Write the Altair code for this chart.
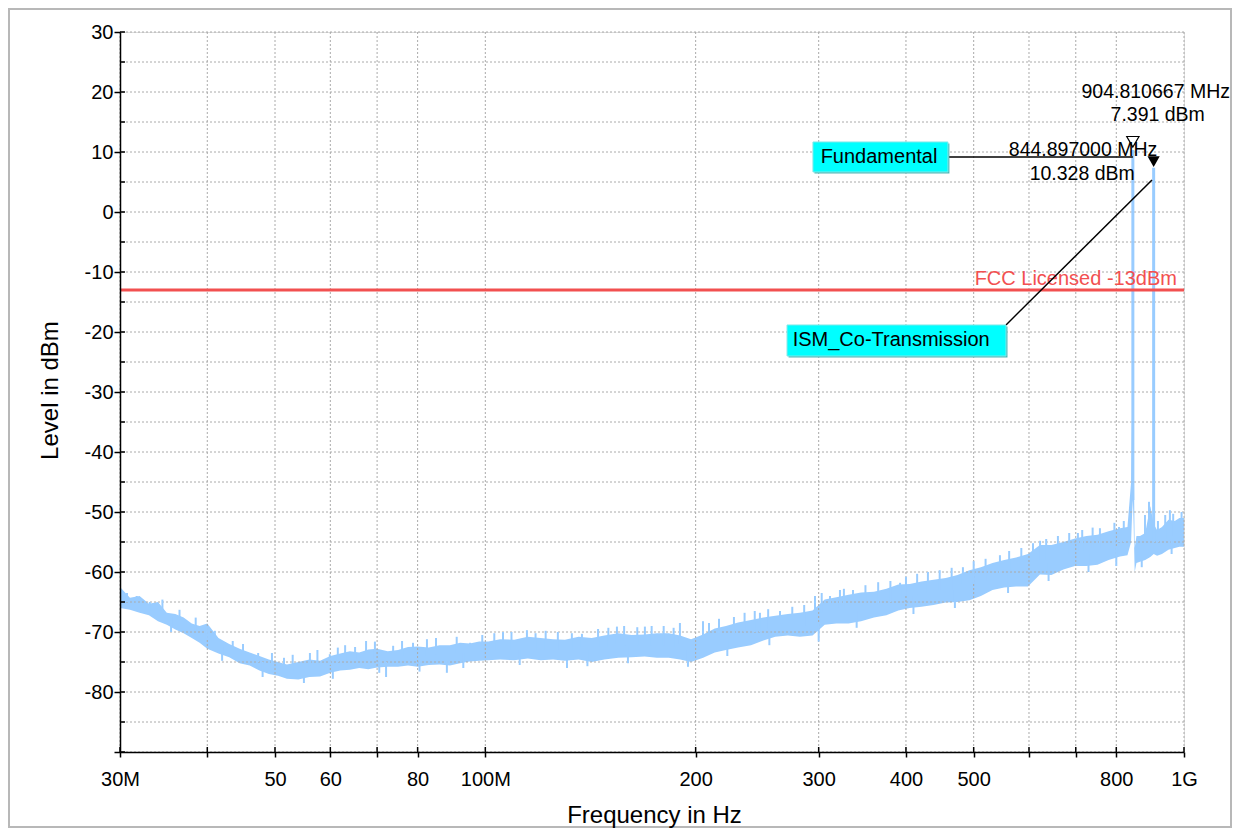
import altair as alt
import pandas as pd

# ---------------- data ----------------
freq_mhz = [30, 31, 32, 33, 34, 35, 36, 37, 38, 39, 40, 41.5, 43, 44.5, 46, 47.5, 49, 50.5, 52, 54,
            56, 58, 60, 62, 64, 66, 68, 70, 72.5, 75, 77.5, 80, 83, 86, 89, 92, 95, 98, 101, 105,
            110, 115, 120, 125, 130, 136, 142, 148, 155, 162, 169, 176, 183, 190, 197, 205, 213, 221, 230, 240,
            250, 260, 271, 282, 294, 306, 318, 331, 345, 360, 375, 390, 405, 421, 438, 456, 474, 493, 512, 532,
            553, 575, 598, 622, 646, 672, 698, 725, 752, 780, 810, 830, 840, 843, 845, 847, 850, 855, 865, 880,
            895, 905, 915, 930, 950, 970, 985, 1000]
upper_dbm = [-62.5, -64.3, -64.0, -65.3, -65.0, -66.8, -67.0, -67.6, -68.6, -69.0, -68.6, -71.0, -72.0, -72.8, -73.4, -74.0, -74.6, -75.0, -75.4, -75.0,
             -74.6, -74.8, -74.0, -73.6, -73.2, -73.4, -72.9, -72.8, -73.2, -73.0, -72.5, -72.4, -72.6, -72.2, -72.2, -71.8, -71.9, -71.6, -71.6, -71.2,
             -71.3, -70.8, -71.0, -71.2, -71.3, -70.8, -71.0, -70.6, -70.2, -70.5, -70.4, -70.2, -70.2, -70.6, -71.2, -70.4, -69.4, -69.0, -68.4, -68.0,
             -67.6, -67.3, -67.0, -66.8, -66.4, -64.6, -64.2, -63.8, -63.4, -63.3, -62.8, -62.1, -62.0, -61.6, -61.3, -61.0, -60.5, -59.7, -59.2, -58.5,
             -58.0, -57.6, -57.0, -55.5, -55.5, -55.0, -54.4, -54.0, -53.8, -53.2, -52.7, -52.5, -45.0, -32.0, -30.0, -38.0, -56.0, -54.0, -54.0, -53.5,
             -49.0, -52.0, -53.0, -52.5, -51.3, -51.5, -51.0, -51.0]
lower_dbm = [-66.0, -66.3, -66.8, -67.2, -68.2, -68.8, -69.6, -70.2, -71.0, -71.8, -72.8, -73.6, -74.2, -75.2, -75.6, -76.4, -77.0, -77.3, -77.8, -77.9,
             -77.5, -77.4, -76.8, -76.4, -76.3, -76.0, -76.2, -75.9, -75.8, -75.8, -75.6, -75.8, -75.5, -75.4, -75.6, -75.2, -74.9, -74.8, -74.7, -74.6,
             -74.7, -74.4, -74.7, -74.6, -74.8, -74.6, -75.0, -74.6, -74.3, -74.2, -74.1, -74.3, -74.3, -74.6, -75.0, -74.3, -73.4, -73.0, -72.6, -72.2,
             -71.4, -70.8, -70.6, -70.8, -70.6, -68.8, -68.6, -68.6, -68.2, -67.6, -67.2, -66.4, -66.0, -65.8, -65.5, -65.1, -65.0, -64.7, -64.0, -63.0,
             -62.6, -62.4, -62.4, -60.4, -60.5, -59.6, -59.0, -59.0, -58.8, -58.0, -57.4, -57.2, -55.0, -50.0, -48.0, -52.0, -60.0, -58.5, -58.3, -58.0,
             -57.5, -57.0, -57.3, -57.0, -56.3, -56.0, -55.8, -55.8]

# individual noise spikes: frequency, tip level, level where the spike leaves the band
spike_freq_mhz = [30.7, 31.7, 33.1, 39.95, 43.5, 47.3, 56.1, 59.9, 65.1, 72.1, 73.8, 78.8, 82.5, 88.1, 95.1,
                  106.0, 114.7, 130.9, 137.5, 154.3, 169.2, 189.9, 204.9, 226.9, 247.2, 264.1, 296.4, 311.4,
                  321.8, 335.9, 392.3, 482.6, 545.2, 622.3, 704.9, 758, 807.2, 879.3, 891, 917.7, 954.6,
                  34.5, 36.5, 38.5, 41, 45, 49.5, 51.5, 53, 57.5, 61.5, 63, 67.5, 69.5, 76, 85, 91, 99, 103,
                  109, 118, 122, 127, 133, 145, 150, 158, 165, 173, 180, 186, 209, 216, 235, 243, 254, 275,
                  286, 303, 326, 350, 365, 380, 400, 415, 430, 447, 465, 500, 520, 562, 585, 608, 635, 660,
                  685, 715, 740, 795, 820, 940, 965, 992,
                  35.5, 42, 48, 55, 60.5, 70.5, 80.5, 93, 112, 140, 160, 195, 222, 255, 300, 340, 410, 470,
                  560, 640, 730, 800, 870, 960]
spike_tip_dbm = [-63.5, -64.0, -65.0, -69.1, -71.5, -73.5, -73.5, -73.7, -72.5, -77.5, -72.3, -71.8, -71.2, -76.8, -71.8,
                 -70.0, -69.7, -76.0, -70.3, -69.1, -69.1, -68.5, -68.2, -67.5, -66.8, -66.5, -64.0, -64.0,
                 -63.0, -63.0, -61.8, -59.2, -57.2, -54.8, -53.5, -52.7, -52.5, -50.5, -48.3, -51.5, -49.7,
                 -64.6, -66.3, -67.6, -69.8, -72.0, -73.5, -74.3, -73.8, -73.0, -72.6, -72.2, -71.5, -71.6, -71.5, -71.0, -70.8, -70.5, -70.2,
                 -70.0, -70.2, -69.8, -70.0, -70.2, -69.5, -69.3, -69.0, -69.2, -69.0, -69.0, -69.3, -68.5, -67.8, -66.8, -66.5, -66.2, -65.8,
                 -65.5, -63.5, -62.8, -62.2, -61.7, -61.5, -60.8, -60.3, -60.0, -59.7, -59.3, -58.2, -57.8, -56.5, -56.0, -55.2, -54.5, -54.0,
                 -53.5, -53.0, -52.6, -51.8, -51.5, -50.5, -50.3, -50.0,
                 -70.0, -74.8, -77.5, -78.5, -77.8, -76.8, -76.6, -76.0, -75.5, -75.7, -75.2, -75.8, -74.0, -72.2, -71.6, -69.3, -67.0, -66.0,
                 -63.5, -61.5, -60.0, -59.0, -59.2, -57.0]
spike_base_dbm = [-65.0, -65.5, -66.5, -71.0, -73.0, -75.0, -76.0, -75.5, -74.5, -75.0, -74.5, -74.0, -74.0, -74.5, -73.5,
                  -73.0, -72.5, -73.5, -72.5, -72.0, -72.0, -72.0, -72.0, -70.5, -70.0, -69.0, -68.5, -67.0,
                  -66.0, -66.0, -64.5, -62.0, -60.5, -58.0, -56.5, -56.0, -55.0, -55.5, -55.5, -55.0, -53.5,
                  -66.5, -68.0, -69.8, -72.0, -74.0, -76.0, -76.5, -76.5, -75.5, -75.0, -75.0, -74.5, -74.5, -74.0, -73.8, -73.5, -73.2, -73.0,
                  -73.0, -73.0, -73.0, -73.0, -73.0, -72.5, -72.5, -72.3, -72.3, -72.3, -72.3, -72.5, -71.5, -71.0, -70.0, -70.0, -69.5, -69.0,
                  -69.0, -66.8, -66.0, -65.5, -65.5, -65.0, -64.0, -63.8, -63.5, -63.0, -63.0, -62.0, -61.5, -60.0, -60.0, -58.5, -58.0, -57.5,
                  -57.0, -56.5, -56.0, -55.5, -55.0, -54.5, -54.0, -53.5,
                  -67.5, -72.5, -75.0, -76.5, -75.5, -74.5, -74.0, -73.5, -73.0, -73.0, -72.5, -73.0, -71.5, -69.5, -68.5, -66.5, -64.0, -63.0,
                  -60.5, -58.5, -57.0, -56.0, -56.5, -54.5]

peak_freq_mhz = [844.897, 904.810667]
peak_dbm = [10.328, 7.391]
peak_base_dbm = [-48.0, -55.0]
marker_dbm = [11.7, 8.4]
marker_filled = [False, True]

readout_text = ["904.810667 MHz", "7.391 dBm", "844.897000 MHz", "10.328 dBm"]
readout_freq_mhz = [911, 917, 717, 715]
readout_dbm = [20.0, 16.2, 10.3, 6.3]

limit_dbm = -13
limit_label = "FCC Licensed -13dBm"
limit_label_freq_mhz = 977
limit_label_dbm = -11.1

box_text = ["Fundamental", "ISM_Co-Transmission"]
box_text_freq_mhz = [366, 381]
box_text_dbm = [9.17, -21.4]
box_left_mhz = [294.4, 270.3]
box_right_mhz = [459.3, 556.2]
box_top_dbm = [11.67, -18.83]
box_bottom_dbm = [6.67, -24.0]
leader_from_mhz = [459.3, 556.2]
leader_from_dbm = [9.17, -18.83]
leader_to_mhz = [844.9, 899.9]
leader_to_dbm = [9.17, 5.33]

x_tick_mhz = [30, 40, 50, 60, 70, 80, 100, 200, 300, 400, 500, 600, 700, 800, 1000]
x_tick_labels = ["30M", "", "50", "60", "", "80", "100M", "200", "300", "400", "500", "", "", "800", "1G"]
y_ticks = list(range(-90, 31, 5))

# ---------------- tables ----------------
M = 1e6
band = pd.DataFrame({"f": [v * M for v in freq_mhz], "hi": upper_dbm, "lo": lower_dbm})
spikes = pd.DataFrame({"f": [v * M for v in spike_freq_mhz], "tip": spike_tip_dbm, "base": spike_base_dbm})
peaks = pd.DataFrame({"f": [v * M for v in peak_freq_mhz], "top": peak_dbm, "base": peak_base_dbm,
                      "m": marker_dbm, "filled": marker_filled})
readouts = pd.DataFrame({"f": [v * M for v in readout_freq_mhz], "y": readout_dbm, "t": readout_text})
boxes = pd.DataFrame({"t": box_text, "tf": [v * M for v in box_text_freq_mhz], "ty": box_text_dbm,
                      "l": [v * M for v in box_left_mhz], "r": [v * M for v in box_right_mhz],
                      "top": box_top_dbm, "bot": box_bottom_dbm,
                      "f1": [v * M for v in leader_from_mhz], "y1": leader_from_dbm,
                      "f2": [v * M for v in leader_to_mhz], "y2": leader_to_dbm})
xt = pd.DataFrame({"v": [v * M for v in x_tick_mhz]})
yt = pd.DataFrame({"v": y_ticks})
limit = pd.DataFrame({"y": [limit_dbm], "ly": [limit_label_dbm], "lf": [limit_label_freq_mhz * M], "t": [limit_label]})

W, H = 1064, 720
FONT = "Liberation Sans"
BLUE = "#99ccff"
RED = "#f25050"

xscale = alt.Scale(type="log", domain=[30 * M, 1000 * M], nice=False)
yscale = alt.Scale(domain=[-90, 30], nice=False, zero=False)

label_expr = "''"
for v, lab in zip(x_tick_mhz, x_tick_labels):
    label_expr = f"abs(datum.value - {v * M:.0f}) < 1 ? '{lab}' : ({label_expr})"

xaxis = alt.Axis(values=[v * M for v in x_tick_mhz], labelExpr=label_expr, grid=False,
                 domainColor="black", domainWidth=1.5, tickColor="black", tickWidth=1.5, tickSize=5,
                 labelFont=FONT, labelFontSize=20, labelColor="black", labelPadding=12, labelFlush=False,
                 labelOverlap=False,
                 title="Frequency in Hz", titleFont=FONT, titleFontSize=24, titleFontWeight="normal",
                 titleColor="black", titleBaseline="alphabetic", titleY=70, titleX=W / 2 + 2, zindex=2)
yaxis = alt.Axis(values=y_ticks,
                 labelExpr="(datum.value % 10 == 0 && datum.value > -90) ? ('' + datum.value) : ''",
                 grid=False, domainColor="black", domainWidth=1.5, tickColor="black", tickWidth=1.5,
                 tickSize=6, labelFont=FONT, labelFontSize=20, labelColor="black", labelPadding=1,
                 labelOverlap=False,
                 title="Level in dBm", titleFont=FONT, titleFontSize=24, titleFontWeight="normal",
                 titleColor="black", titleAngle=-90, titleBaseline="middle", titleAlign="center",
                 titleX=-70, titleY=358, zindex=2)


def fx(field):
    return alt.X(field, scale=xscale)


def fy(field):
    return alt.Y(field, scale=yscale)


grid_style = dict(color="#aaaaaa", strokeDash=[2, 2], strokeWidth=1)
vgrid = alt.Chart(xt).mark_rule(**grid_style).encode(x=fx("v:Q"))
hgrid = alt.Chart(yt).mark_rule(**grid_style).encode(y=fy("v:Q"))

trace = alt.Chart(band).mark_area(color=BLUE, opacity=1, interpolate="linear").encode(
    x=alt.X("f:Q", scale=xscale, axis=xaxis), y=alt.Y("lo:Q", scale=yscale, axis=yaxis), y2="hi:Q")

spike_lines = alt.Chart(spikes).mark_rule(color=BLUE, strokeWidth=2).encode(
    x=fx("f:Q"), y=fy("base:Q"), y2="tip:Q")

peak_lines = alt.Chart(peaks).mark_rule(color=BLUE, strokeWidth=3).encode(
    x=fx("f:Q"), y=fy("base:Q"), y2="top:Q")

limit_line = alt.Chart(limit).mark_rule(color=RED, strokeWidth=3).encode(y=fy("y:Q"))
limit_text = alt.Chart(limit).mark_text(color=RED, font=FONT, fontSize=20, align="right", baseline="middle").encode(
    x=fx("lf:Q"), y=fy("ly:Q"), text="t:N")

leaders = alt.Chart(boxes).mark_rule(color="black", strokeWidth=1.5).encode(
    x=fx("f1:Q"), y=fy("y1:Q"), x2="f2:Q", y2="y2:Q")
box_shadow = alt.Chart(boxes).mark_rect(fill="#4fb8b8", xOffset=1.5, yOffset=1.5, x2Offset=1.5, y2Offset=1.5).encode(
    x=fx("l:Q"), x2="r:Q", y=fy("top:Q"), y2="bot:Q")
box_rect = alt.Chart(boxes).mark_rect(fill="#00ffff", stroke="#7fe8e8", strokeWidth=1).encode(
    x=fx("l:Q"), x2="r:Q", y=fy("top:Q"), y2="bot:Q")
box_label = alt.Chart(boxes).mark_text(color="black", font=FONT, fontSize=20, align="center", baseline="middle").encode(
    x=fx("tf:Q"), y=fy("ty:Q"), text="t:N")

markers_open = alt.Chart(peaks).transform_filter("!datum.filled").mark_point(
    shape="triangle-down", filled=False, color="black", size=150, strokeWidth=1.2, opacity=1).encode(
    x=fx("f:Q"), y=fy("m:Q"))
markers_filled = alt.Chart(peaks).transform_filter("datum.filled").mark_point(
    shape="triangle-down", filled=True, color="black", size=150, opacity=1).encode(
    x=fx("f:Q"), y=fy("m:Q"))
readout = alt.Chart(readouts).mark_text(color="black", font=FONT, fontSize=19.5, align="center", baseline="middle").encode(
    x=fx("f:Q"), y=fy("y:Q"), text="t:N")

# inward halves of the crossing tick marks
ytick_in = alt.Chart(yt).mark_rule(color="black", strokeWidth=1.5).encode(
    y=fy("v:Q"), x=alt.value(0), x2=alt.value(5))
xtick_in = alt.Chart(xt).mark_rule(color="black", strokeWidth=1.5).encode(
    x=fx("v:Q"), y=alt.value(H - 5), y2=alt.value(H))

frame = alt.Chart(limit).mark_rect(fill=None, stroke="#b8b8b8", strokeWidth=2).encode(
    x=alt.value(-111), x2=alt.value(W + 47), y=alt.value(-23), y2=alt.value(H + 75))

chart = alt.layer(
    trace, vgrid, hgrid, spike_lines, peak_lines, limit_line, limit_text, leaders, box_shadow, box_rect,
    box_label, markers_open, markers_filled, readout, ytick_in, xtick_in, frame
).properties(
    width=W, height=H,
    autosize=alt.AutoSizeParams(type="none"),
    padding={"left": 112, "top": 24, "right": 49, "bottom": 77},
).configure_view(stroke=None).configure(background="white")

chart.save("out.html", embed_options={"renderer": "svg", "actions": False})
